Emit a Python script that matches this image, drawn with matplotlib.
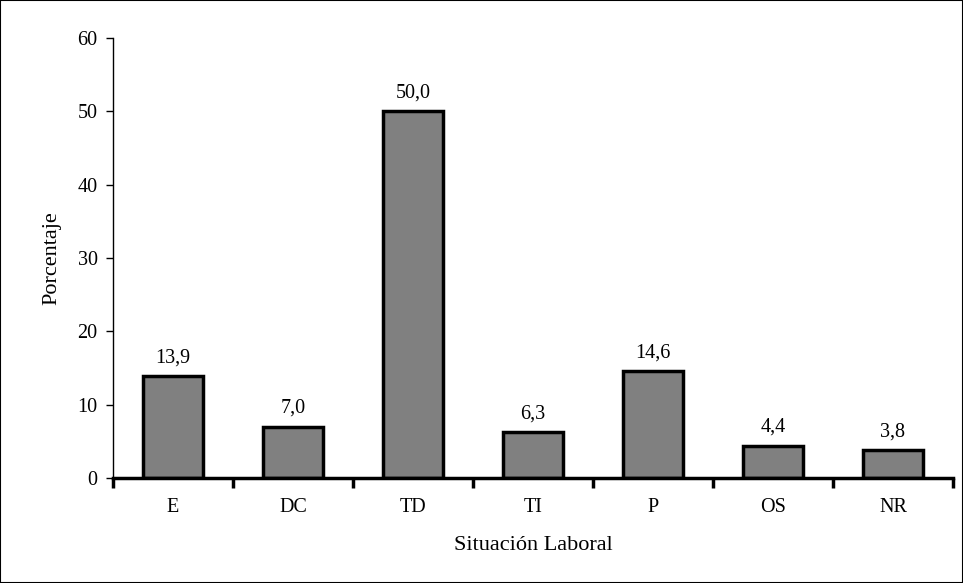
import matplotlib.pyplot as plt
from matplotlib.patches import Rectangle
import numpy as np

categorias = ['E', 'DC', 'TD', 'TI', 'P', 'OS', 'NR']
porcentajes = [13.9, 7.0, 50.0, 6.3, 14.6, 4.4, 3.8]
etiquetas = ['13,9', '7,0', '50,0', '6,3', '14,6', '4,4', '3,8']

plt.rcParams['font.family'] = ['Liberation Serif', 'DejaVu Serif']

fig = plt.figure(figsize=(9.63, 5.83), dpi=100)
ax = fig.add_axes([0.1173, 0.180, 0.8723, 0.7548])

x = np.arange(len(categorias))
ax.bar(x, porcentajes, width=0.5, color='#808080', edgecolor='black', linewidth=2.5)
for xi, v, t in zip(x, porcentajes, etiquetas):
    ax.text(xi, v + 1.2, t, ha='center', va='bottom', fontsize=14.5)

ax.set_xlim(-0.5, len(categorias) - 0.5)
ax.set_ylim(0, 60)
ax.set_yticks(range(0, 61, 10))
ax.set_xticks(x)
ax.set_xticklabels(categorias, fontsize=14.5)
ax.set_xticks(np.arange(-0.5, len(categorias)), minor=True)
ax.tick_params(axis='x', which='major', length=0, pad=14)
ax.tick_params(axis='x', which='minor', length=7, width=2.5, direction='out')
ax.tick_params(axis='y', length=5, width=1, labelsize=14.5, pad=6)

for s in ['top', 'right']:
    ax.spines[s].set_visible(False)
ax.spines['bottom'].set_linewidth(2.5)
ax.spines['left'].set_linewidth(1)

ax.set_xlabel('Situación Laboral', fontsize=16, labelpad=14)
ax.set_ylabel('Porcentaje', fontsize=16, labelpad=12)

fig.patches.append(Rectangle((0, 0), 1, 1, transform=fig.transFigure,
                             fill=False, edgecolor='black', linewidth=1.5))

fig.savefig('out.png', dpi=100)
